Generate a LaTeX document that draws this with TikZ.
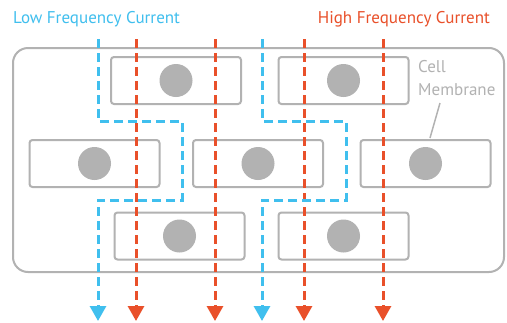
\documentclass[tikz,border=0pt]{standalone}
\usepackage{fontspec}
\setmainfont{PT Sans}
\usetikzlibrary{arrows.meta}
\definecolor{lowblue}{HTML}{40BFEE}
\definecolor{highred}{HTML}{E9502A}
\definecolor{membgrey}{HTML}{B2B2B2}
\tikzset{
  cellbox/.style={draw=membgrey, line width=2pt, rounded corners=3pt, minimum width=130pt, minimum height=47pt},
  nucleus/.style={circle, fill=membgrey, minimum size=33pt, inner sep=0pt},
  lowcur/.style={draw=lowblue, line width=3pt, dash pattern=on 9pt off 5pt, -{Triangle[width=16pt,length=15pt]}},
  highcur/.style={draw=highred, line width=3pt, dash pattern=on 9pt off 5pt, -{Triangle[width=16pt,length=15pt]}}
}
\begin{document}
\begin{tikzpicture}[x=1pt,y=-1pt]
    \useasboundingbox (0,0) rectangle (507,322);
    \fill[white] (0,0) rectangle (507,322);

    % tissue and cells
    \draw[membgrey, line width=2pt, rounded corners=15pt] (13,48) rectangle (504,272);
    \foreach \name/\x/\y in {c1/176/80.5, c2/343.5/80.5, c3/94.5/163.5, c4/258/163.5, c5/425.5/163.5, c6/179.5/236, c7/343.5/236} {
        \node[cellbox] (\name) at (\x,\y) {};
        \node[nucleus] (\name n) at (\x,\y) {};
    }

    % labels
    \node[anchor=west, text=lowblue, font=\fontsize{17}{20}\selectfont, inner sep=0pt] (lowlbl) at (13,19) {Low Frequency Current};
    \node[anchor=east, text=highred, font=\fontsize{17}{20}\selectfont, inner sep=0pt] (highlbl) at (490,19) {High Frequency Current};
    \node[anchor=west, text=membgrey, font=\fontsize{17}{23}\selectfont, align=left, inner sep=0pt] (memlbl) at (418,78) {Cell\\Membrane};
    \coordinate (memtip) at (430,138);
    \draw[membgrey, line width=1.5pt] (440,103) -- (memtip);

    % high frequency current passes through the cells
    \foreach \i/\x in {1/136, 2/215, 3/304, 4/383} {
        \coordinate (hin\i) at (\x,39);
        \coordinate (hout\i) at (\x,321);
        \draw[highcur] (hin\i) -- (hout\i);
    }

    % low frequency current goes round the cells
    \foreach \i/\x/\r in {1/98/182, 2/262/346} {
        \coordinate (lin\i) at (\x,39);
        \coordinate (lout\i) at (\x,321);
        \draw[lowcur] (lin\i) |- (\r,121) |- (\x,200) -- (lout\i);
    }
\end{tikzpicture}
\end{document}
